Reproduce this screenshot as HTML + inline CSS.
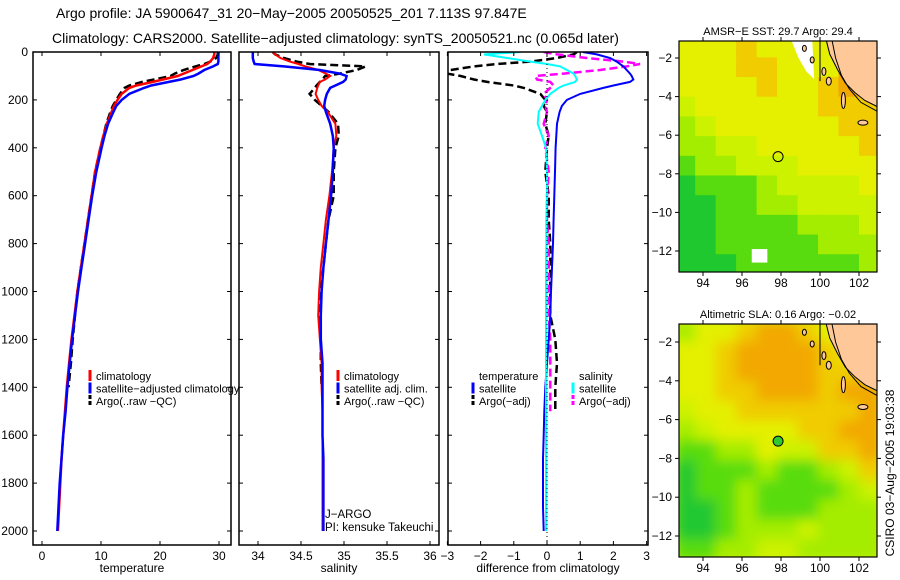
<!DOCTYPE html>
<html><head><meta charset="utf-8">
<style>
html,body{margin:0;padding:0;background:#fff;}
svg{display:block;font-family:"Liberation Sans",sans-serif;}
</style></head>
<body>
<svg id="fig" width="900" height="580" viewBox="0 0 900 580">
<defs>
<clipPath id="c1"><rect x="33" y="52" width="198" height="493"/></clipPath>
<clipPath id="c2"><rect x="239" y="52" width="200" height="493"/></clipPath>
<clipPath id="c3"><rect x="448" y="52" width="200" height="493"/></clipPath>
<clipPath id="m1"><rect x="679" y="41" width="198" height="231"/></clipPath>
<clipPath id="m2"><rect x="679" y="324" width="198" height="233"/></clipPath>
<filter id="blur2"><feGaussianBlur stdDeviation="6"/></filter>
</defs>
<text x="56" y="18" font-size="14">Argo profile: JA 5900647_31 20−May−2005 20050525_201 7.113S 97.847E</text>
<text x="52" y="43" font-size="14">Climatology: CARS2000. Satellite−adjusted climatology: synTS_20050521.nc (0.065d later)</text>
<g id="root"></g>
<text transform="translate(894,473) rotate(-90)" text-anchor="middle" font-size="12">CSIRO 03−Aug−2005 19:03:38</text>
</svg>
<script>
const depth=[0,10,25,40,50,60,75,90,100,115,125,140,150,175,200,225,250,300,350,400,500,600,700,800,900,1000,1100,1200,1300,1400,1500,1600,1700,1800,1900,2000];
const tempClim=[29.2,29.2,29.0,28.5,28.0,27.0,25.5,24.0,23.0,20.5,18.8,16.0,14.8,13.5,12.8,12.2,11.8,11.0,10.4,9.9,9.0,8.4,7.8,7.2,6.6,6.0,5.5,5.0,4.6,4.2,3.9,3.6,3.3,3.1,2.9,2.7];
const tempSat=[29.9,29.9,29.9,29.9,29.8,29.0,27.5,26.5,25.7,23.5,21.5,18.5,17.3,14.8,13.5,12.6,12.1,11.2,10.6,10.1,9.2,8.5,7.9,7.3,6.7,6.1,5.6,5.1,4.7,4.3,4.0,3.6,3.3,3.0,2.8,2.6];
const tempArgo=[29.8,29.8,29.5,28.5,27.5,26.0,24.0,22.5,21.8,19.0,17.0,14.8,14.0,13.2,12.6,12.0,11.6,10.9,10.4,9.9,9.0,8.4,7.8,7.2,6.6,6.0,5.6,5.2,4.9,4.5,null,null,null,null,null,null];
const salClim=[34.17,34.2,34.26,34.37,34.47,34.55,34.70,34.79,34.84,34.78,34.72,34.70,34.69,34.67,34.70,34.74,34.81,34.90,34.91,34.88,34.86,34.83,34.79,34.76,34.73,34.71,34.70,34.72,34.74,34.74,34.75,34.75,34.75,34.75,34.75,34.75];
const salSat=[33.94,33.94,33.94,33.95,33.96,34.3,34.72,34.95,35.03,35.02,34.99,34.9,34.84,34.8,34.78,34.77,34.79,34.84,34.87,34.88,34.87,34.85,34.82,34.79,34.76,34.74,34.73,34.73,34.75,34.75,34.75,34.75,34.76,34.76,34.76,34.76];
const salArgo=[34.17,34.2,34.3,34.45,34.6,35.25,35.15,34.95,34.78,34.75,34.72,34.68,34.66,34.6,34.66,34.74,34.82,34.93,34.94,34.9,34.88,34.88,34.82,34.79,34.76,34.73,34.72,34.73,34.73,34.74,null,null,null,null,null,null];
const dTempSat=[1.08,1.5,1.9,2.1,2.2,2.3,2.4,2.5,2.55,2.6,2.5,2.0,1.7,1.0,0.6,0.45,0.38,0.3,0.28,0.26,0.24,0.22,0.2,0.18,0.15,0.12,0.1,0.05,0,-0.05,-0.08,-0.1,-0.12,-0.12,-0.12,-0.1];
const dSalSat=[-0.8,-1.9,-1.2,-0.5,0,0.4,0.6,0.8,0.85,0.9,0.85,0.5,0.35,0.1,-0.05,-0.15,-0.25,-0.28,-0.15,-0.03,0,0,-0.02,-0.02,-0.03,-0.03,-0.03,-0.03,-0.03,-0.03,-0.03,-0.03,-0.03,-0.03,-0.03,-0.03];
const dTempArgo=[0.9,0.8,0.3,-0.5,-1.5,-2.2,-2.9,-3.0,-2.6,-2.2,-1.8,-1.0,-0.7,-0.2,-0.05,-0.1,0,-0.05,0.05,0,-0.05,0.05,0.05,0.1,0.1,0.1,0.1,0.25,0.3,0.25,0.25,null,null,null,null,null];
const dSalArgo=[-0.1,0.3,1.2,2.3,2.8,2.4,1.6,0.5,-0.35,-0.3,0.1,0.2,0.1,-0.1,0,-0.05,0,-0.1,0.05,-0.05,0.05,0,0,0.05,0.05,0.05,0.05,0.1,0.1,0.1,0.1,null,null,null,null,null];
const depthTicks=[0,200,400,600,800,1000,1200,1400,1600,1800,2000];
const tempTicks=[0,10,20,30];
const salTicks=[34,34.5,35,35.5,36];
const diffTicks=[-3,-2,-1,0,1,2,3];
const lonTicks=[94,96,98,100,102];
const latTicks=[-2,-4,-6,-8,-10,-12];
const map1Grid=["YYYoYYYYOO","YYYooYYYOO","YYYYoYYoOO","yYYYYYYooo","LyYYYYYYoo","LLyyYYYYYo","GLLyyyYYYY","DGGGLyyyyY","DDGGLLyyyy","DDGGGGLLLy","DDGGGGGLLL","DDDGGGGGGL"];
const map2Grid=["LYYoOOoYYo","YYoOOOOoYo","YYoOOOOooo","YYooOOOoOO","yYYooooooO","LyYYYYooOO","GGLLYyyooO","DGGGLGGLyo","DGGLGGGGLy","DDGLGGGLLL","DDGLLLyLLL","GGLLyyLLLL"];

const NS="http://www.w3.org/2000/svg";
const root=document.getElementById('root');
function el(tag,attrs,parent){const e=document.createElementNS(NS,tag);for(const k in attrs)e.setAttribute(k,attrs[k]);(parent||root).appendChild(e);return e;}
const Y=d=>52+d*0.2395;
const TOP=52,BOT=545;

function panel(name,x0,x1,xs,ticks,tickFmt,title,clip,series){
  const g=el('g',{});
  
  
  const sg=el('g',{'clip-path':'url(#'+clip+')'},g);
  series.forEach(s=>{
    let pts=[],segs=[];
    s.vals.forEach((v,i)=>{if(v===null){if(pts.length)segs.push(pts);pts=[];}else pts.push(xs(v).toFixed(1)+','+Y(depth[i]).toFixed(1));});
    if(pts.length)segs.push(pts);
    segs.forEach(p=>{
      const pl=el('polyline',{points:p.join(' '),fill:'none',stroke:s.c,'stroke-width':s.w||2,'stroke-dasharray':s.dash||'none'},sg);
      
      
    });
  });
  const fr=el('rect',{x:x0,y:TOP,width:x1-x0,height:BOT-TOP,fill:'none',stroke:'#000','stroke-width':1.5},g);
  
  
  ticks.forEach(t=>{
    const x=xs(t);
    el('line',{x1:x,x2:x,y1:TOP,y2:TOP+4,stroke:'#000'},g);
    el('line',{x1:x,x2:x,y1:BOT,y2:BOT-4,stroke:'#000'},g);
    const tx=el('text',{x:x,y:BOT+15,'font-size':12,'text-anchor':'middle'},g);
    tx.textContent=tickFmt(t);
    
    
  });
  depthTicks.forEach(d=>{
    el('line',{x1:x0,x2:x0+4,y1:Y(d),y2:Y(d),stroke:'#000'},g);
    el('line',{x1:x1,x2:x1-4,y1:Y(d),y2:Y(d),stroke:'#000'},g);
  });
  const tt=el('text',{x:(x0+x1)/2,y:572,'font-size':12,'text-anchor':'middle'},g);
  tt.textContent=title;
  
  
  return g;
}
depthTicks.forEach(d=>{
  const t=el('text',{x:28,y:Y(d)+4,'font-size':12,'text-anchor':'end'});
  t.textContent=d;
  
  
});
const xT=v=>42+v*5.9, xS=v=>258+(v-34)*86, xD=v=>547+v*33.2;
panel('temperature-panel',33,231,xT,tempTicks,t=>t,'temperature','c1',[
 {n:'temp-argo-line',vals:tempArgo,c:'#000',dash:'8,4',w:2.5},
 {n:'temp-climatology-line',vals:tempClim,c:'#f00',w:2.5},
 {n:'temp-satellite-line',vals:tempSat,c:'#00f',w:2.5}]);
panel('salinity-panel',239,439,xS,salTicks,t=>t,'salinity','c2',[
 {n:'sal-argo-line',vals:salArgo,c:'#000',dash:'8,4',w:2.5},
 {n:'sal-climatology-line',vals:salClim,c:'#f00',w:2},
 {n:'sal-satellite-line',vals:salSat,c:'#00f',w:2.5}]);
const p3=panel('difference-panel',448,648,xD,diffTicks,t=>t<0?'−'+(-t):t,'difference from climatology','c3',[
 {n:'diff-temp-argo-line',vals:dTempArgo,c:'#000',dash:'8,4',w:2.5},
 {n:'diff-sal-argo-line',vals:dSalArgo,c:'#f0f',dash:'8,4',w:2.5},
 {n:'diff-temp-satellite-line',vals:dTempSat,c:'#00f',w:2},
 {n:'diff-sal-satellite-line',vals:dSalSat,c:'#0ff',w:2}]);
el('line',{x1:xD(0),x2:xD(0),y1:TOP,y2:BOT,stroke:'#000','stroke-dasharray':'1,3'},p3);

function legend(name,x,y,items){
  const g=el('g',{});
  
  
  items.forEach((it,i)=>{
    const yy=y+i*12.5;
    if(it.c)el('line',{x1:x,x2:x,y1:yy-10,y2:yy+1,stroke:it.c,'stroke-width':3,'stroke-dasharray':it.d?'4,2':'none'},g);
    const t=el('text',{x:x+6,y:yy,'font-size':11},g);
    t.textContent=it.t;
    
    
  });
}
legend('temperature-legend',90,380,[{c:'#f00',t:'climatology'},{c:'#00f',t:'satellite−adjusted climatology'},{c:'#000',t:'Argo(..raw −QC)',d:1}]);
legend('salinity-legend',338,380,[{c:'#f00',t:'climatology'},{c:'#00f',t:'satellite adj. clim.'},{c:'#000',t:'Argo(..raw −QC)',d:1}]);
legend('diff-temp-legend',473,380,[{t:'temperature'},{c:'#00f',t:'satellite'},{c:'#000',t:'Argo(−adj)',d:1}]);
legend('diff-sal-legend',573,380,[{t:'salinity'},{c:'#0ff',t:'satellite'},{c:'#f0f',t:'Argo(−adj)',d:1}]);
let t1=el('text',{x:325,y:518,'font-size':11.5});t1.textContent='J−ARGO';


let t2=el('text',{x:325,y:531,'font-size':11.5});t2.textContent='PI: kensuke Takeuchi';



const COL={Y:'#e4f000',y:'#ccf200',L:'#a4ec00',G:'#58dc10',D:'#20c830',O:'#f2a800',o:'#f0cc00'};
function map(name,top,bot,yRef,latScale,grid,clip,title,blur,filled){
  const lx=l=>703+(l-94)*19.5, ly=l=>yRef+(-2-l)*latScale;
  const g=el('g',{});
  
  
  const cg=el('g',{'clip-path':'url(#'+clip+')'},g);
  el('rect',{x:679,y:top-20,width:198,height:bot-top+40,fill:'#d8f000'},cg);
  const fg=el('g',blur?{filter:'url(#blur2)'}:{},cg);
  grid.forEach((row,r)=>{[...row].forEach((ch,c)=>{
    el('rect',{x:lx(92.6+c*1.05)-1,y:ly(-1.0-r*1.02)-1,width:1.05*19.5+2,height:1.02*latScale+2,fill:COL[ch]},fg);
  });});
  if(!blur){
    el('polygon',{points:[[98.5,-1],[99.6,-1],[99.7,-3.1],[99.3,-2.7],[98.9,-2.0]].map(p=>lx(p[0])+','+ly(p[1])).join(' '),fill:'#fff'},cg);
    el('polygon',{points:[[96.5,-11.9],[97.3,-11.9],[97.3,-12.6],[96.5,-12.6]].map(p=>lx(p[0])+','+ly(p[1])).join(' '),fill:'#fff'},cg);
  }
  const land=[[100.3,-1],[100.5,-1.8],[100.9,-2.6],[101.3,-3.3],[101.8,-3.8],[102.3,-4.2],[102.9,-4.5],[103.2,-4.6],[103.2,-0.5],[100.3,-0.5]];
  const ld=el('polygon',{points:land.map(p=>lx(p[0])+','+ly(p[1])).join(' '),fill:'#ffc898',stroke:'#000','stroke-width':1},cg);
  
  
  el('polyline',{points:[[100.6,-1],[100.8,-2],[101.1,-2.9],[101.5,-3.6],[102.1,-4.3],[103,-4.8]].map(p=>lx(p[0])+','+ly(p[1])).join(' '),fill:'none',stroke:'#000'},cg);
  el('line',{x1:lx(100),x2:lx(100),y1:top,y2:ly(-3.2),stroke:'#000'},cg);
  [[99.2,-1.5,2,3],[99.6,-2.1,2,3],[100.2,-2.7,2,4],[100.45,-3.2,2.5,4],[101.2,-4.2,2,8],[102.2,-5.35,5,2.5]].forEach(e=>{
    el('ellipse',{cx:lx(e[0]),cy:ly(e[1]),rx:e[2],ry:e[3],fill:'#ffc898',stroke:'#000'},cg);
  });
  const mk=el('circle',{cx:lx(97.85),cy:ly(-7.11),r:5,fill:filled?'#30c830':'none',stroke:'#000','stroke-width':1},g);
  
  
  el('rect',{x:679,y:top,width:198,height:bot-top,fill:'none',stroke:'#000','stroke-width':1.2},g);
  lonTicks.forEach(l=>{
    el('line',{x1:lx(l),x2:lx(l),y1:top,y2:top-4,stroke:'#000'},g);
    el('line',{x1:lx(l),x2:lx(l),y1:bot,y2:bot+4,stroke:'#000'},g);
    const t=el('text',{x:lx(l),y:bot+15,'font-size':12,'text-anchor':'middle'},g);t.textContent=l;
    
    
  });
  latTicks.forEach(l=>{
    el('line',{x1:679,x2:675,y1:ly(l),y2:ly(l),stroke:'#000'},g);
    el('line',{x1:877,x2:881,y1:ly(l),y2:ly(l),stroke:'#000'},g);
    const t=el('text',{x:672,y:ly(l)+4,'font-size':12,'text-anchor':'end'},g);t.textContent='−'+(-l);
    
    
  });
  const tt=el('text',{x:778,y:top-6,'font-size':11,'text-anchor':'middle'},g);tt.textContent=title;
  
  
}
map('sst-map',41,272,58,19.3,map1Grid,'m1','AMSR−E SST: 29.7 Argo: 29.4',false,false);
map('sla-map',324,557,342,19.4,map2Grid,'m2','Altimetric SLA: 0.16 Argo: −0.02',true,true);
</script>
</body></html>
